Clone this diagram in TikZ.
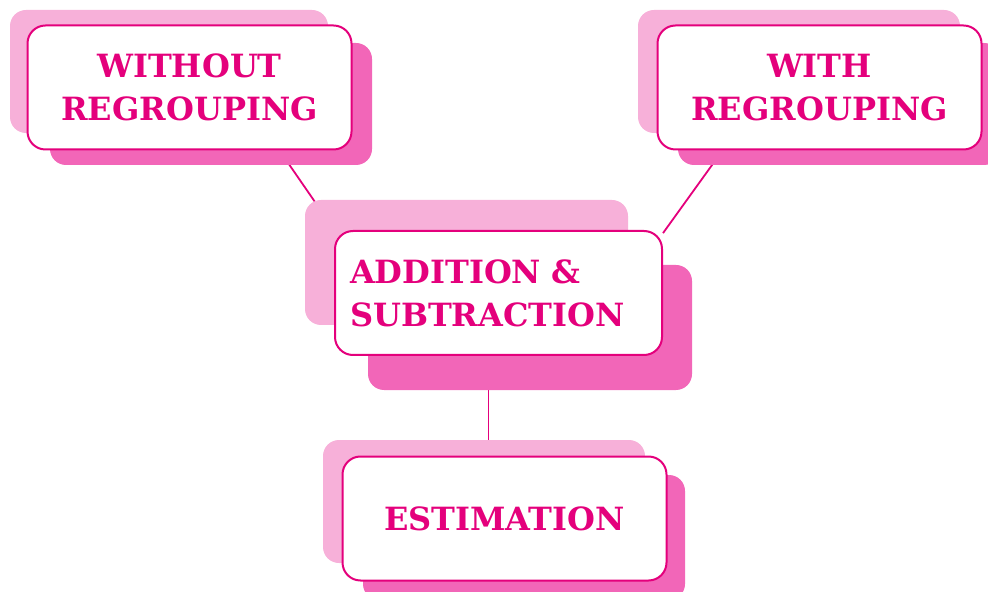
\documentclass[tikz,border=0pt]{standalone}
\usepackage{fontspec}
\setmainfont{DejaVu Serif}
\usetikzlibrary{positioning,backgrounds}

\definecolor{rosetext}{RGB}{228,0,124}
\definecolor{roselight}{RGB}{247,176,217}
\definecolor{rosedark}{RGB}{242,102,184}

\begin{document}
\begin{tikzpicture}[x=0.5pt, y=-0.5pt]
\tikzstyle{concept}=[draw=rosetext, line width=1pt, fill=white, rounded corners=9pt,
  minimum width=162pt, minimum height=62pt, text=rosetext, align=center,
  font=\bfseries\fontsize{16}{21.5}\selectfont]
\tikzstyle{light}=[fill=roselight, rounded corners=8pt]
\tikzstyle{dark}=[fill=rosedark, rounded corners=8pt]
\tikzstyle{link}=[draw=rosetext, line width=0.9pt]
\useasboundingbox (0,0) rectangle (988,592);
\clip (0,0) rectangle (988,592);
% shadow cards
\fill[light] (10,10) rectangle (328,133);
\fill[dark] (50,43) rectangle (372,165);
\fill[light] (638,10) rectangle (960,133);
\fill[dark] (678,43) rectangle (1000,165);
\fill[light] (305,200) rectangle (628,325);
\fill[dark] (368,265) rectangle (692,390);
\fill[light] (323,440) rectangle (645,563);
\fill[dark] (363,475) rectangle (685,600);
% cards
\node[concept] (wo) at (189.5,87.5) {WITHOUT\\REGROUPING};
\node[concept] (wi) at (819.5,87.5) {WITH\\REGROUPING};
\node[concept, align=left, text width=148.5pt, inner xsep=7.5pt,
  minimum width=163.5pt] (as) at (498.5,293) {ADDITION \&\\SUBTRACTION};
\node[concept] (est) at (504.5,518.5) {ESTIMATION};
% links, behind the cards
\begin{scope}[on background layer]
\draw[link] (wo.-35) -- (as.159);
\draw[link] (wi.-147) -- (as.20);
\draw[link] ([xshift=-5pt]as.south) -- ([xshift=-5pt]as.south |- est.north);
\end{scope}
\end{tikzpicture}
\end{document}
